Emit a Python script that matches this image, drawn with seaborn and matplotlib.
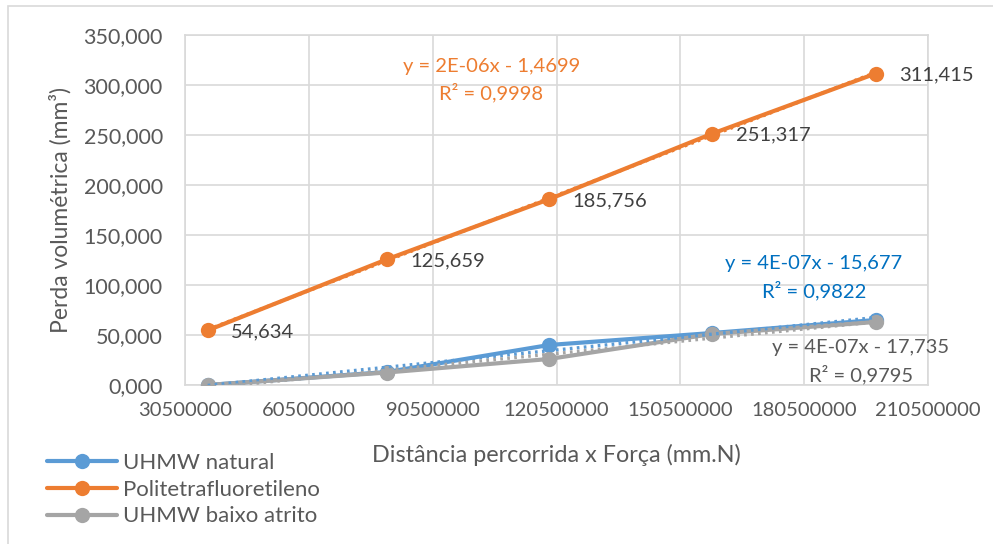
import numpy as np
import pandas as pd
import matplotlib
matplotlib.use("Agg")
import matplotlib.pyplot as plt
from matplotlib.lines import Line2D
from matplotlib.patches import Rectangle
from matplotlib.ticker import FuncFormatter
import seaborn as sns

# data
distancia = [36.0e6, 79.4e6, 118.7e6, 158.2e6, 197.8e6]
uhmw_natural = [0.0, 13.0, 40.0, 52.0, 65.0]
ptfe = [54.634, 125.659, 185.756, 251.317, 311.415]
uhmw_baixo = [0.0, 12.5, 26.0, 51.0, 63.0]

series_names = ["UHMW natural", "Politetrafluoretileno", "UHMW baixo atrito"]
series_values = [uhmw_natural, ptfe, uhmw_baixo]
colors = ["#5B9BD5", "#ED7D31", "#A5A5A5"]
eq_colors = ["#0070C0", "#ED7D31", "#595959"]
equations = ["y = 4E-07x - 15,677\nR² = 0,9822",
             "y = 2E-06x - 1,4699\nR² = 0,9998",
             "y = 4E-07x - 17,735\nR² = 0,9795"]
eq_pos = [(0.8466, 0.307), (0.4125, 0.871), (0.9098, 0.067)]

x_ticks = np.arange(30500000, 210500001, 30000000)
y_ticks = np.arange(0, 351, 50)

df = pd.DataFrame({
    "x": distancia * 3,
    "y": uhmw_natural + ptfe + uhmw_baixo,
    "serie": np.repeat(series_names, len(distancia)),
})
palette = dict(zip(series_names, colors))

sns.set_theme(style="white")
plt.rcParams["font.family"] = ["Lato", "DejaVu Sans"]
fs = 14.5
txt = "#595959"

fig = plt.figure(figsize=(9.93, 5.44), dpi=100)
ax = fig.add_axes([185 / 993, 1 - 385 / 544, 743 / 993, 350 / 544])

# chart frame
fig.patches.append(Rectangle((8 / 993, -0.1), 2, 1.1 - 6 / 544, transform=fig.transFigure,
                             fill=False, edgecolor="#D9D9D9", lw=1.2, zorder=0))

sns.lineplot(data=df, x="x", y="y", hue="serie", palette=palette, marker="o",
             markersize=11, markeredgewidth=0, linewidth=3, legend=False, ax=ax,
             zorder=3)

# linear trendlines (dotted)
for name, vals, c in zip(series_names, series_values, colors):
    sns.regplot(x=np.array(distancia), y=np.array(vals), ci=None, scatter=False,
                ax=ax, color=c, line_kws={"linestyle": (0, (0.8, 1.3)), "linewidth": 2.4,
                                          "zorder": 4})

# data labels on the PTFE series
for xv, yv in zip(distancia, ptfe):
    ax.annotate(f"{yv:.3f}".replace(".", ","), (xv, yv), xytext=(17, -1),
                textcoords="offset points", ha="left", va="center",
                fontsize=fs, color="#404040", zorder=5)

for eq, (ex, ey), c in zip(equations, eq_pos, eq_colors):
    ax.text(ex, ey, eq, transform=ax.transAxes, ha="center", va="center",
            multialignment="center", fontsize=fs, color=c, linespacing=1.5, zorder=6)

ax.set_xlim(x_ticks[0], x_ticks[-1])
ax.set_ylim(y_ticks[0], y_ticks[-1])
ax.set_xticks(x_ticks)
ax.set_yticks(y_ticks)
ax.xaxis.set_major_formatter(FuncFormatter(lambda v, p: f"{int(round(v))}"))
ax.yaxis.set_major_formatter(FuncFormatter(lambda v, p: f"{v:.3f}".replace(".", ",")))
ax.tick_params(axis="both", length=0, labelcolor=txt)
ax.tick_params(axis="x", pad=12, labelsize=fs)
ax.tick_params(axis="y", pad=16, labelsize=15.5)
ax.grid(True, color="#D9D9D9", linewidth=1.2)
ax.set_axisbelow(True)
for s in ax.spines.values():
    s.set_color("#D9D9D9")
    s.set_linewidth(1.2)

ax.set_xlabel("Distância percorrida x Força (mm.N)", fontsize=16.8, color=txt)
ax.set_ylabel("Perda volumétrica (mm³)", fontsize=16.5, color=txt)
ax.xaxis.set_label_coords(0.5, -0.168)
ax.yaxis.set_label_coords(-0.152, 0.5)

handles = [Line2D([], [], color=c, lw=3, marker="o", markersize=11, markeredgewidth=0)
           for c in colors]
fig.legend(handles, series_names, loc="upper left", bbox_to_anchor=(47 / 993, 1 - 453 / 544),
           frameon=False, fontsize=16, labelcolor=txt, handlelength=3.15, handletextpad=0.25,
           labelspacing=0.3, borderpad=0, borderaxespad=0)

fig.savefig("out.png", dpi=100)
